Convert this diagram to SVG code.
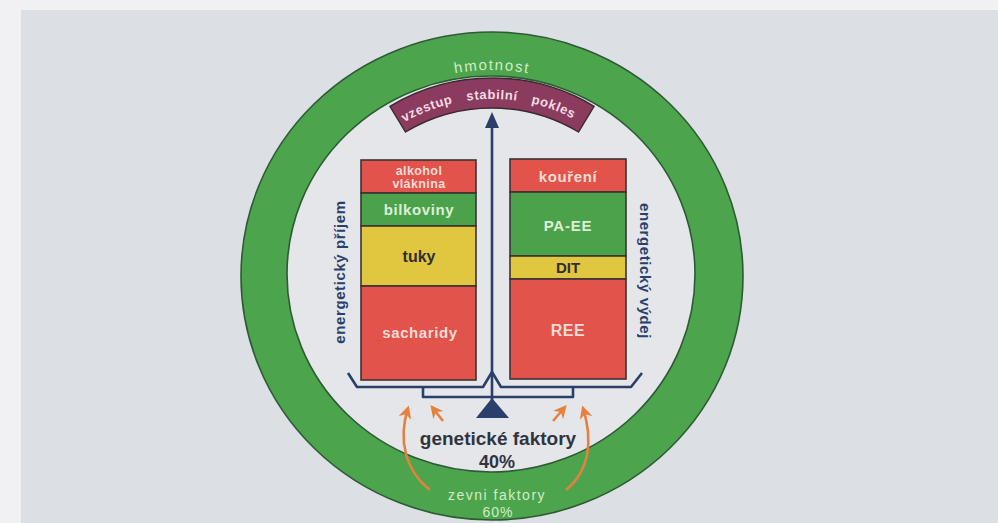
<svg xmlns="http://www.w3.org/2000/svg" width="998" height="523" viewBox="0 0 998 523">
<defs>
<style>
.t{font-family:"Liberation Sans",Arial,sans-serif;}
.box{stroke:#3a3434;stroke-width:1.6;}
.red{fill:#e2534b;}
.grn{fill:#4ca24b;}
.yel{fill:#e1c63f;}
.lt{fill:#f5dcd6;font-weight:bold;text-anchor:middle;}
.lg{fill:#dcefd6;font-weight:bold;text-anchor:middle;}
.dk{fill:#2e2f38;font-weight:bold;text-anchor:middle;}
.side{fill:#2b3f6b;font-weight:bold;font-size:15px;letter-spacing:0.6px;text-anchor:middle;}
.navy{fill:none;stroke:#2b3f6b;stroke-width:2.6;stroke-linejoin:round;}
.org{fill:none;stroke:#e5813d;stroke-width:2.6;}
.bt{font-size:13px;font-weight:bold;fill:#f3dbe5;letter-spacing:0.6px;text-anchor:middle;}
</style>
<marker id="ah" viewBox="0 0 10 10" refX="8" refY="5" markerWidth="13" markerHeight="13" markerUnits="userSpaceOnUse" orient="auto">
<path d="M0,0 L10,5 L0,10 L3,5 z" fill="#e5813d"/>
</marker>
<path id="bandArc" d="M378.2,140.4 A177,177 0 0 1 605.8,140.4"/>
<path id="massArc" d="M359.6,118.2 A206,206 0 0 1 624.4,118.2"/>
</defs>

<rect x="0" y="0" width="998" height="523" fill="#f1f1f3"/>
<rect x="21" y="10" width="977" height="513" fill="#dcdfe4"/>

<g id="ring">
<ellipse cx="492" cy="276" rx="251" ry="244" fill="#4ca54c" stroke="#2e5a36" stroke-width="1.6"/>
<ellipse cx="491" cy="274" rx="204" ry="198" fill="#e4e6ea" stroke="#2e5a36" stroke-width="1.6"/>
<text class="t" font-size="15" fill="#d2ecc8" letter-spacing="1.6" text-anchor="middle"><textPath href="#massArc" startOffset="50%">hmotnost</textPath></text>
<text class="t" x="497" y="500" font-size="14" fill="#d2ecc8" letter-spacing="1.5" text-anchor="middle">zevni faktory</text>
<text class="t" x="498" y="517" font-size="14" fill="#d2ecc8" letter-spacing="1" text-anchor="middle">60%</text>
</g>

<g id="band">
<path d="M389.9,106.3 A198,198 0 0 1 594.1,106.3 L578.5,132 A168,168 0 0 0 405.5,132 Z" fill="#8b3b5d" stroke="#3a2a30" stroke-width="1.4"/>
<text class="t bt"><textPath href="#bandArc" startOffset="23.5%">vzestup</textPath></text>
<text class="t bt"><textPath href="#bandArc" startOffset="50%">stabilní</textPath></text>
<text class="t bt"><textPath href="#bandArc" startOffset="75%">pokles</textPath></text>
</g>

<g id="intake">
<rect class="box red" x="361" y="160" width="115" height="33"/>
<rect class="box grn" x="361" y="193" width="115" height="33"/>
<rect class="box yel" x="361" y="226" width="115" height="60"/>
<rect class="box red" x="361" y="286" width="115" height="94"/>
<text class="t lt" x="419" y="175" font-size="12.5" letter-spacing="0.4">alkohol</text>
<text class="t lt" x="419" y="188" font-size="12.5" letter-spacing="0.4">vláknina</text>
<text class="t lg" x="419" y="215" font-size="15" letter-spacing="0.6">bilkoviny</text>
<text class="t dk" x="419" y="262" font-size="16">tuky</text>
<text class="t lt" x="420" y="338" font-size="15" letter-spacing="0.6">sacharidy</text>
<text class="t side" transform="translate(345,272) rotate(-90)">energetický příjem</text>
</g>

<g id="expenditure">
<rect class="box red" x="510" y="159" width="116" height="33"/>
<rect class="box grn" x="510" y="192" width="116" height="64"/>
<rect class="box yel" x="510" y="256" width="116" height="23"/>
<rect class="box red" x="510" y="279" width="116" height="100"/>
<text class="t lt" x="568" y="182" font-size="15" letter-spacing="0.6">kouření</text>
<text class="t lg" x="568" y="231" font-size="15" letter-spacing="0.8">PA-EE</text>
<text class="t dk" x="568" y="273" font-size="15">DIT</text>
<text class="t lt" x="568" y="336" font-size="16" letter-spacing="0.6">REE</text>
<text class="t side" transform="translate(640,271) rotate(90)">energetický výdej</text>
</g>

<g id="scale">
<line class="navy" x1="492" y1="126" x2="492" y2="400"/>
<polygon points="492,112 485,128 499,128" fill="#2b3f6b"/>
<polyline class="navy" points="348,373 357,387 483,387 492,372 501,387 631,387 642,373"/>
<polyline class="navy" points="423,387 423,397 573,397 573,387"/>
<polygon points="492,398 476,418 509,418" fill="#2b3f6b"/>
</g>

<g id="genetic">
<text class="t" x="498" y="445" font-size="19" font-weight="bold" fill="#30343f" text-anchor="middle">genetické faktory</text>
<text class="t" x="497" y="468" font-size="18" font-weight="bold" fill="#30343f" text-anchor="middle">40%</text>
</g>

<g id="connectors">
<path class="org" d="M430,490 C405,470 398,440 408,408" marker-end="url(#ah)"/>
<path class="org" d="M443,421 L432,407" marker-end="url(#ah)"/>
<path class="org" d="M553,421 L565,407" marker-end="url(#ah)"/>
<path class="org" d="M566,490 C590,470 593,440 583,408" marker-end="url(#ah)"/>
</g>
</svg>
